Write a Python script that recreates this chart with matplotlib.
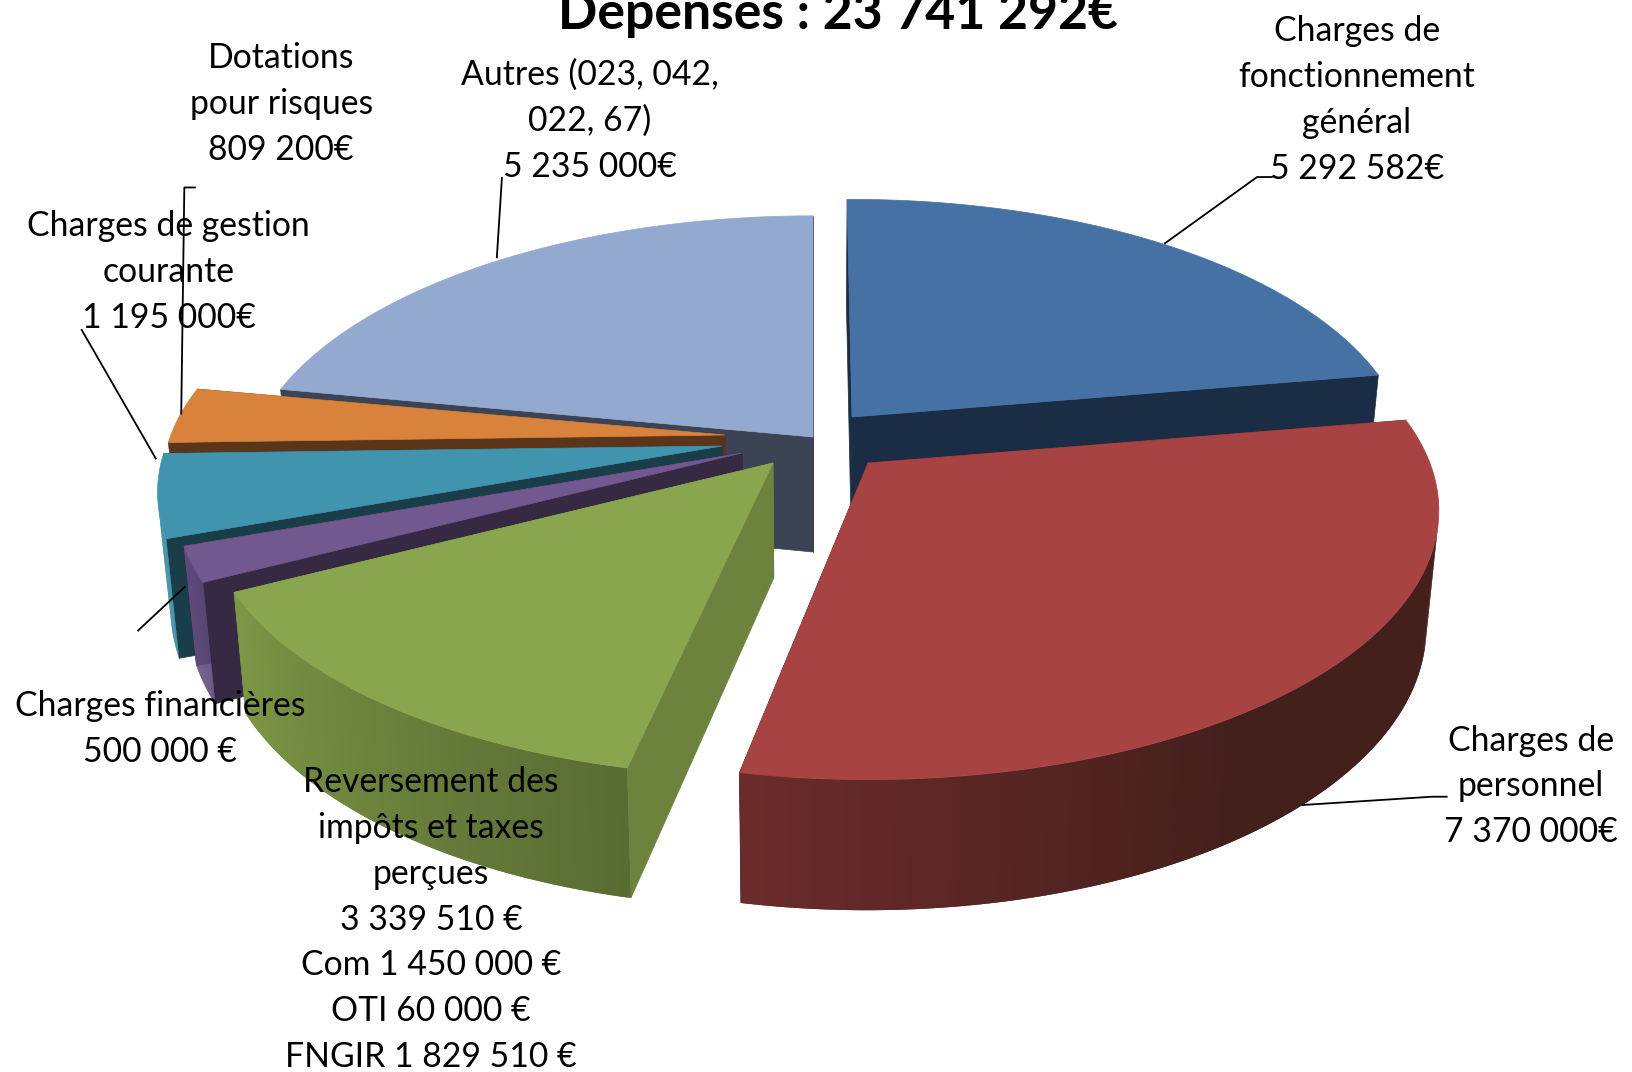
import numpy as np
import matplotlib
matplotlib.use('Agg')
import matplotlib.pyplot as plt
from matplotlib.collections import PolyCollection
from matplotlib.colors import to_rgb
from matplotlib.patches import Polygon

plt.rcParams['font.family'] = ['Lato', 'DejaVu Sans']

# data, clockwise from 12 o'clock
names = ['blue', 'red', 'green', 'purple', 'teal', 'orange', 'light']
values = [5292582, 7370000, 3339510, 500000, 1195000, 809200, 5235000]
labels = ['Charges de\nfonctionnement\ngénéral\n5 292 582€',
          'Charges de\npersonnel\n7 370 000€',
          'Reversement des\nimpôts et taxes\nperçues\n3 339 510 €\nCom 1 450 000 €\nOTI 60 000 €\nFNGIR 1 829 510 €',
          'Charges financières\n500 000 €',
          'Charges de gestion\ncourante\n1 195 000€',
          'Dotations\npour risques\n809 200€',
          'Autres (023, 042,\n022, 67)\n5 235 000€']
title = 'Dépenses : 23 741 292€'

# styling, in reference pixels
F = 1633 / 1568
CX, CY = 813, 450
R, RB, K = 558, 259, 0.175
DEPTH, DEPTH_K, SHRINK = 115, 73, 0.98
explode = {'blue': (39, -33), 'red': (55, 13), 'green': (-40, 13), 'purple': (-71, 3),
           'teal': (-91, -4), 'orange': (-88, -15), 'light': (0, -13)}
# small perspective corrections: start angle, end angle (degrees), radius factor
adjust = {'blue': (-0.6, 0, 0.985), 'red': (0, -1.1, 1.007), 'green': (0.5, 0, 1),
          'purple': (0, 0, 1), 'teal': (0, 0, 0.996), 'orange': (0, 0, 0.993), 'light': (0.3, 0, 1.004)}
top_col = {'blue': '#4671A5', 'red': '#A74342', 'green': '#89A54E', 'purple': '#71588F',
           'teal': '#4194AE', 'orange': '#D9823B', 'light': '#93A9CF'}
cut_col = {'blue': '#1B2D44', 'red': '#45201C', 'green': '#6D823D', 'purple': '#352943',
           'teal': '#1A3D4A', 'orange': '#5A3519', 'light': '#3B4355'}
# outer wall colour at first and last angle, and the part of the slice kept flat
arc_col = {'blue': ('#1B2D44', '#1B2D44', 0), 'red': ('#44201C', '#6B2B2B', 0.6),
           'green': ('#596C33', '#7D9746', 0), 'purple': ('#5F4A7A', '#6A5388', 0),
           'teal': ('#3A8CA5', '#3A8CA5', 0), 'orange': ('#D9823B', '#D9823B', 0),
           'light': ('#3B4355', '#3B4355', 0)}
draw_order = ['light', 'orange', 'teal', 'purple', 'green', 'blue', 'red']

label_pos = [(1303, 96), (1470, 755), (414, 883), (154, 700), (162, 261), (270, 100), (566, 116)]
leaders = [[(1118, 234), (1207, 170), (1222, 170)],
           [(1250, 773), (1375, 765), (1390, 765)],
           [(178, 563), (132, 606)],
           [(150, 441), (78, 316)],
           [(174, 398), (177, 180), (188, 180)],
           [(477, 248), (482, 170)]]


def top_pts(name, th, rad=1.0):
    dx, dy = explode[name]
    u, v = rad * np.sin(th), rad * np.cos(th)
    s = 1 / (1 + K * v)
    return CX + dx + R * u * s, CY + dy - RB * v * s, s


def bottom_pts(x, y, s):
    return CX + (x - CX) * SHRINK, y + DEPTH + (s - 1) * DEPTH_K


def wall_colours(c0, c1, flat, n):
    c0, c1 = np.array(to_rgb(c0)), np.array(to_rgb(c1))
    t = np.clip((np.linspace(0, 1, n) - flat) / (1 - flat), 0, 1)
    return [tuple(c0 + (c1 - c0) * a) for a in t]


def quad_area(q):
    p = np.array(q)
    x, y = p[:, 0], p[:, 1]
    return 0.5 * np.sum(x * np.roll(y, -1) - np.roll(x, -1) * y)


fracs = np.array(values) / np.sum(values)
edges = np.concatenate([[0], np.cumsum(fracs)]) * 2 * np.pi

fig = plt.figure(figsize=(16.33, 10.72), dpi=100)
ax = fig.add_axes([0, 0, 1, 1])
ax.set_xlim(0, 1633)
ax.set_ylim(1072, 0)
ax.axis('off')

z = 1
for name in draw_order:
    i = names.index(name)
    a0, a1, rad = adjust[name]
    th = np.linspace(edges[i] + np.radians(a0), edges[i + 1] + np.radians(a1), 160)
    x, y, s = top_pts(name, th, rad)
    ax0, ay0, s0 = top_pts(name, 0.0, 0.0)
    xb, yb = bottom_pts(x, y, s)
    axb, ayb = bottom_pts(ax0, ay0, s0)

    # the two cut faces
    for j in (0, -1):
        q = [(ax0, ay0), (x[j], y[j]), (xb[j], yb[j]), (axb, ayb)]
        ax.add_patch(Polygon(q, fc=cut_col[name], ec=cut_col[name], lw=0.5, zorder=z))
    z += 1

    # outer wall in strips for the shading, each one running under the next;
    # only the strips that face the viewer
    n = len(x) - 1
    cols = wall_colours(*arc_col[name], n)
    quads, qcols = [], []
    for j in range(n):
        k = min(j + 2, n)
        q = [(x[j], y[j]), (x[k], y[k]), (xb[k], yb[k]), (xb[j], yb[j])]
        if quad_area(q) < 0:
            quads.append(q)
            qcols.append(cols[j])
    if quads:
        ax.add_collection(PolyCollection(quads, facecolors=qcols, edgecolors='none', zorder=z))
    z += 1

    # top face
    pts = [(ax0, ay0)] + list(zip(x, y))
    ax.add_patch(Polygon(pts, fc=top_col[name], ec=top_col[name], lw=0.5, zorder=z))
    z += 1

for line in leaders:
    p = np.array(line) * F
    ax.plot(p[:, 0], p[:, 1], color='black', lw=1.3, zorder=z, solid_capstyle='butt')
z += 1

for txt, (px, py) in zip(labels, label_pos):
    ax.text(px * F, py * F, txt, ha='center', va='center', fontsize=24.3,
            linespacing=1.53, color='black', zorder=z)

ax.text(805 * F, 27.5 * F, title, ha='center', va='baseline', fontsize=37.3,
        fontweight='bold', color='black', zorder=z)

fig.savefig('out.png', dpi=100, facecolor='white')
